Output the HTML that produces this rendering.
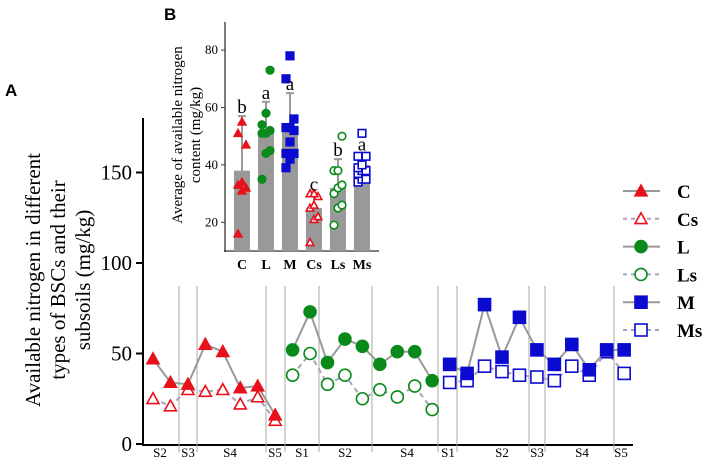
<!DOCTYPE html>
<html><head><meta charset="utf-8"><style>
body{margin:0;background:#fff;}
svg{display:block;font-family:"Liberation Serif",serif;}
</style></head><body>
<svg id="c" width="709" height="462"></svg>
<script>
const cats=["C","L","M","Cs","Ls","Ms"];
const barMeans=[38,52,53,25,32,40];
const barErr=[57,62,65,30,42,44];
const letters=["b","a","a","c","b","a"];
const ptsC=[16,31,32,33,34,47,51,55];
const ptsL=[35,44,45,51,51,52,54,58,73];
const ptsM=[39,42,44,44,48,52,53,53,56,70,78];
const ptsCs=[13,21,22,25,26,29,30,30];
const ptsLs=[19,25,26,30,32,33,38,38,50];
const ptsMs=[34,35,35,37,38,38,39,40,43,43,51];
const C=[47,34,33,55,51,31,32,16];
const Cs=[25,21,30,29,30,22,26,13];
const L=[52,73,45,58,54,44,51,51,35];
const Ls=[38,50,33,38,25,30,26,32,19];
const M=[44,39,77,48,70,52,44,55,41,52,52];
const Ms=[34,35,43,40,38,37,35,43,38,51,39];
const siteLabels=["S2","S3","S4","S5","S1","S2","S4","S1","S2","S3","S4","S5"];
const mainTicks=[0,50,100,150];
const insetTicks=[20,40,60,80];

const svg=document.getElementById('c');
const NS="http://www.w3.org/2000/svg";
function mk(t,a,p){const e=document.createElementNS(NS,t);for(const k in a)e.setAttribute(k,a[k]);(p||svg).appendChild(e);return e;}
const RED="#e8101a",GRN="#0a8a1a",BLU="#0b0bd0";
const y0=444,ky=1.81;
const Y=v=>y0-v*ky;
const xStart=153,dx=17.45;
const X=i=>xStart+i*dx;
let ax=mk('line',{x1:143,y1:118,x2:143,y2:446,stroke:'#000','stroke-width':2});

let bx=mk('line',{x1:142,y1:445,x2:633,y2:445,stroke:'#000','stroke-width':2});

mainTicks.forEach(t=>{
  mk('line',{x1:136,y1:Y(t),x2:143,y2:Y(t),stroke:'#000','stroke-width':2});
  const tx=mk('text',{x:132,y:Y(t)+7,'text-anchor':'end','font-size':21});tx.textContent=t;
  
});
[179,197,266,285,319,372,438,457,529,545,614].forEach(x=>{
  const l=mk('line',{x1:x,y1:286,x2:x,y2:452,stroke:'#aaa','stroke-width':1});
  
});
[160,188,230,275,302,345,407,448,502,537,582,621].forEach((x,i)=>{
  const t=mk('text',{x:x,y:457,'text-anchor':'middle','font-size':13});t.textContent=siteLabels[i];
  
});
function marker(shape,x,y,col,filled,s,name){
  let e;const f=filled?col:'#fff';
  if(shape==='tri')e=mk('polygon',{points:`${x},${y-s} ${x-s},${y+s*0.8} ${x+s},${y+s*0.8}`,fill:f,stroke:col,'stroke-width':1.6});
  else if(shape==='circ')e=mk('circle',{cx:x,cy:y,r:s,fill:f,stroke:col,'stroke-width':1.6});
  else e=mk('rect',{x:x-s,y:y-s,width:2*s,height:2*s,fill:f,stroke:col,'stroke-width':1.6});
  
}
function series(vals,off,shape,col,filled,name){
  const pts=vals.map((v,i)=>X(off+i)+','+Y(v)).join(' ');
  const pl=mk('polyline',{points:pts,fill:'none',stroke:filled?'#999':'#a8a0c0','stroke-width':2,'stroke-dasharray':filled?'':'5,4'});
  
  vals.forEach((v,i)=>marker(shape,X(off+i),Y(v),col,filled,6,name+'-point'));
}
series(Cs,0,'tri',RED,false,'cs');series(C,0,'tri',RED,true,'c');
series(Ls,8,'circ',GRN,false,'ls');series(L,8,'circ',GRN,true,'l');
series(Ms,17,'sq',BLU,false,'ms');series(M,17,'sq',BLU,true,'m');
const yt=mk('text',{transform:'translate(40,280) rotate(-90)','text-anchor':'middle','font-size':21});

[["Available nitrogen in different",0],["types of BSCs and their",25],["subsoils (mg/kg)",25]].forEach(([s,d])=>{const t=mk('tspan',{x:0,dy:d},yt);t.textContent=s;});
let A=mk('text',{x:5,y:96,'font-size':17,'font-weight':'bold','font-family':'Liberation Sans, sans-serif'});A.textContent='A';

let B=mk('text',{x:164,y:20,'font-size':17,'font-weight':'bold','font-family':'Liberation Sans, sans-serif'});B.textContent='B';

const legend=[["C",RED,'tri',true],["Cs",RED,'tri',false],["L",GRN,'circ',true],["Ls",GRN,'circ',false],["M",BLU,'sq',true],["Ms",BLU,'sq',false]];
legend.forEach(([n,col,sh,f],i)=>{
  const y=191+i*27.8;
  const l=mk('line',{x1:623,y1:y,x2:660,y2:y,stroke:f?'#999':'#a8a0c0','stroke-width':2,'stroke-dasharray':f?'':'4,4'});
  
  marker(sh,641,y,col,f,6,'legend-marker');
  const t=mk('text',{x:677,y:y+7,'font-size':19,'font-weight':'bold'});t.textContent=n;
  
});
const iy0=251,ik=2.87;const IY=v=>iy0-(v-10)*ik;
const IX=i=>242+i*24;
mk('line',{x1:225,y1:22,x2:225,y2:252,stroke:'#333','stroke-width':1.3});
mk('line',{x1:224,y1:251,x2:379,y2:251,stroke:'#333','stroke-width':1.3});
insetTicks.forEach(t=>{
  mk('line',{x1:221,y1:IY(t),x2:225,y2:IY(t),stroke:'#333'});
  const tx=mk('text',{x:218,y:IY(t)+4,'text-anchor':'end','font-size':13});tx.textContent=t;
  
});
const pts=[ptsC,ptsL,ptsM,ptsCs,ptsLs,ptsMs];
const sty=[[RED,'tri',true],[GRN,'circ',true],[BLU,'sq',true],[RED,'tri',false],[GRN,'circ',false],[BLU,'sq',false]];
cats.forEach((c,i)=>{
  const b=mk('rect',{x:IX(i)-8,y:IY(barMeans[i]),width:16,height:iy0-IY(barMeans[i]),fill:'#999'});
  
  mk('line',{x1:IX(i),y1:IY(barMeans[i]),x2:IX(i),y2:IY(barErr[i]),stroke:'#999','stroke-width':2});
  mk('line',{x1:IX(i)-4,y1:IY(barErr[i]),x2:IX(i)+4,y2:IY(barErr[i]),stroke:'#999','stroke-width':2});
  pts[i].forEach((v,j)=>marker(sty[i][1],IX(i)+((j%3)-1)*4,IY(v),sty[i][0],sty[i][2],3.8,'inset-point'));
  const lt=mk('text',{x:IX(i),y:IY(barErr[i])-3,'text-anchor':'middle','font-size':19});lt.textContent=letters[i];
  
  const t=mk('text',{x:IX(i),y:269,'text-anchor':'middle','font-size':14,'font-weight':'bold'});t.textContent=c;
  
});
const it=mk('text',{transform:'translate(182,135) rotate(-90)','text-anchor':'middle','font-size':15});

let s1=mk('tspan',{x:0,dy:0},it);s1.textContent='Average of available nitrogen';
let s2=mk('tspan',{x:0,dy:18},it);s2.textContent='content (mg/kg)';
</script>
</body></html>
